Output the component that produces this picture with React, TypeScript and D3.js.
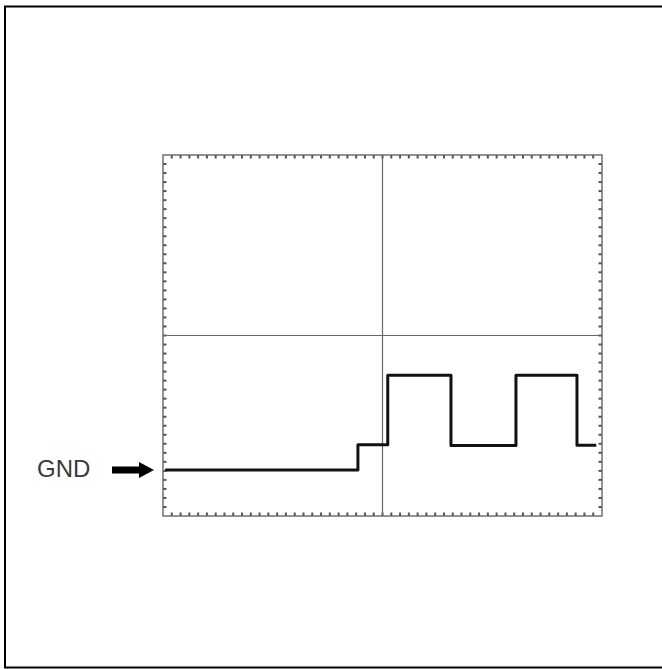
import React from "react";
import * as d3 from "d3";

// Time in divisions (0..10), level in divisions above GND
const edgeTimes = [0.05, 4.44, 4.44, 5.12, 5.12, 6.56, 6.56, 8.04, 8.04, 9.43, 9.43, 9.87];
const edgeLevels = [0, 0, 0.56, 0.56, 2.1, 2.1, 0.54, 0.54, 2.1, 2.1, 0.55, 0.55];
const hDivs = 10;
const vDivs = 8;
const gndLevel = 1.02; // divisions above bottom of the screen
const gndLabel = "GND";

export default function App() {
  const W = 662, H = 669;
  const left = 163, right = 602, top = 155, bottom = 516;
  const x = d3.scaleLinear().domain([0, hDivs]).range([left, right]);
  const y = d3.scaleLinear().domain([-gndLevel, vDivs - gndLevel]).range([bottom, top]);
  const pts: [number, number][] = edgeTimes.map((t, i) => [x(t), y(edgeLevels[i])]);
  const line = d3.line<[number, number]>().x(d => d[0]).y(d => d[1]);
  const hTicks = d3.range(1, hDivs * 5);
  const vTicks = d3.range(1, vDivs * 5);
  const xt = d3.scaleLinear().domain([0, hDivs * 5]).range([left, right]);
  const yt = d3.scaleLinear().domain([0, vDivs * 5]).range([top, bottom]);
  const gy = y(0);
  const tickColor = "#555";
  return (
    <svg width={W} height={H} style={{ position: "absolute", left: 0, top: 0, background: "#fff" }}>
      <rect x={5} y={6.5} width={680} height={661} fill="none" stroke="#000" strokeWidth={2} />
      {/* ticks */}
      <g stroke={tickColor} strokeWidth={2}>
        {hTicks.map(i => (
          <g key={"h" + i}>
            <line x1={xt(i)} x2={xt(i)} y1={top} y2={top + 3.5} />
            <line x1={xt(i)} x2={xt(i)} y1={bottom} y2={bottom - 3.5} />
          </g>
        ))}
        {vTicks.map(i => (
          <g key={"v" + i}>
            <line x1={left} x2={left + 3.5} y1={yt(i)} y2={yt(i)} />
            <line x1={right} x2={right - 3.5} y1={yt(i)} y2={yt(i)} />
          </g>
        ))}
      </g>
      <rect x={left} y={top} width={right - left} height={bottom - top} fill="none" stroke="#666" strokeWidth={1.4} />
      <line x1={x(hDivs / 2)} x2={x(hDivs / 2)} y1={top} y2={bottom} stroke="#666" strokeWidth={1.2} />
      <line x1={left} x2={right} y1={yt(vDivs * 5 / 2)} y2={yt(vDivs * 5 / 2)} stroke="#666" strokeWidth={1.2} />
      <path d={line(pts) || ""} fill="none" stroke="#111" strokeWidth={3} strokeLinejoin="round" />
      <text x={37} y={gy + 7.5} fontFamily="Liberation Sans, Arial, sans-serif" fontSize={24} fill="#3a3a3a">{gndLabel}</text>
      <path d={`M112,${gy - 3.5} L139,${gy - 3.5} L139,${gy - 8} L154,${gy} L139,${gy + 8} L139,${gy + 3.5} L112,${gy + 3.5} Z`} fill="#000" />
    </svg>
  );
}
